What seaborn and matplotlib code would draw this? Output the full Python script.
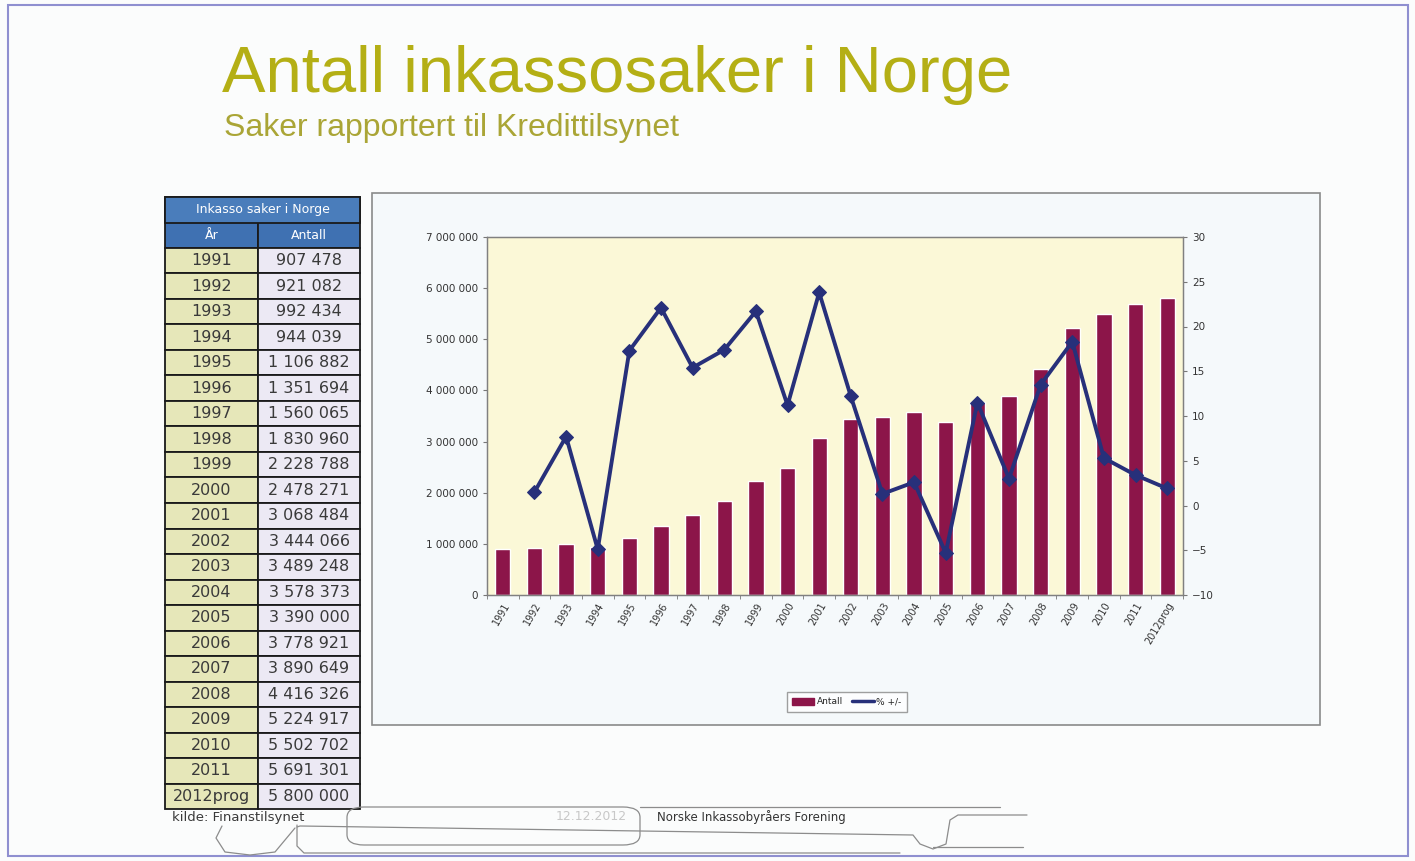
import numpy as np
import pandas as pd
import seaborn as sns
import matplotlib.pyplot as plt
from matplotlib.patches import Rectangle, Patch, FancyBboxPatch
from matplotlib.lines import Line2D
from matplotlib.ticker import FuncFormatter

# Data: cases reported to Kredittilsynet
years = ["1991", "1992", "1993", "1994", "1995", "1996", "1997", "1998", "1999",
         "2000", "2001", "2002", "2003", "2004", "2005", "2006", "2007", "2008",
         "2009", "2010", "2011", "2012prog"]
cases = [907478, 921082, 992434, 944039, 1106882, 1351694, 1560065, 1830960,
         2228788, 2478271, 3068484, 3444066, 3489248, 3578373, 3390000, 3778921,
         3890649, 4416326, 5224917, 5502702, 5691301, 5800000]
# % +/- for 1992 .. 2012prog
pct_change = [1.5, 7.7, -4.9, 17.3, 22.1, 15.4, 17.4, 21.7, 11.2, 23.8, 12.2,
              1.3, 2.6, -5.3, 11.5, 3.0, 13.5, 18.3, 5.3, 3.4, 1.9]

table_title = "Inkasso saker i Norge"
col_labels = ["År", "Antall"]
title = "Antall inkassosaker i Norge"
subtitle = "Saker rapportert til Kredittilsynet"
legend_labels = ["Antall", "% +/-"]

W, H = 1415, 861
bar_color = "#8c1549"
line_color = "#27307a"
olive = "#b4af15"

sns.set_style("ticks")
plt.rcParams["font.family"] = ["DejaVu Sans"]

fig = plt.figure(figsize=(W / 100, H / 100), dpi=100)
fig.patch.set_facecolor("#fbfcfc")


def fx(px):
    return px / W


def fy(py):
    return 1 - py / H


# outer frame of the scan
fig.add_artist(Rectangle((fx(8), fy(856)), fx(1400), 851 / H, transform=fig.transFigure,
                         fill=False, edgecolor="#8f8fd0", lw=1.5))

# titles
fig.text(fx(222), fy(75), title, fontsize=47, color=olive, family="Liberation Sans",
         va="center", ha="left")
fig.text(fx(224), fy(128), subtitle, fontsize=23, color="#aaa536", family="Liberation Sans",
         va="center", ha="left")

# chart frame
fig.add_artist(Rectangle((fx(372), fy(725)), fx(1320 - 372), (725 - 193) / H,
                         transform=fig.transFigure, facecolor="#f5f9fb",
                         edgecolor="#8a8a8a", lw=1.2, zorder=0))

ax = fig.add_axes([fx(487), fy(595), fx(1183 - 487), (595 - 237) / H])
ax.set_facecolor("#fbf8d7")
n = len(years)
df = pd.DataFrame({"year": years, "cases": cases})
sns.barplot(data=df, x="year", y="cases", order=years, color=bar_color,
            saturation=1, width=0.48, ax=ax)
ax.set_xlim(-0.5, n - 0.5)
ax.set_ylim(0, 7_000_000)
ax.set_yticks(np.arange(0, 7_000_001, 1_000_000))
ax.yaxis.set_major_formatter(FuncFormatter(lambda v, _: f"{int(v):,}".replace(",", " ")))
ax.set_xticks(range(n))
ax.set_xticklabels(years, rotation=60, ha="right", rotation_mode="anchor")
ax.set_xticks(np.arange(-0.5, n, 1), minor=True)
ax.tick_params(axis="x", which="major", length=0, labelsize=7, colors="#333333", pad=4)
ax.tick_params(axis="x", which="minor", length=3, color="#777777")
ax.tick_params(axis="y", length=3, labelsize=7.5, colors="#333333", color="#777777")
ax.set_xlabel("")
ax.set_ylabel("")
for s in ax.spines.values():
    s.set_color("#808080")
    s.set_linewidth(0.9)
    s.set_visible(True)

ax2 = ax.twinx()
sns.lineplot(x=list(range(1, n)), y=pct_change, ax=ax2, color=line_color, marker="D",
             markersize=7, markeredgecolor=line_color, linewidth=2.8)
ax2.set_ylim(-10, 30)
ax2.set_yticks(range(-10, 31, 5))
ax2.tick_params(axis="y", length=3, labelsize=7.5, colors="#333333", color="#777777")
ax2.set_ylabel("")
for s in ax2.spines.values():
    s.set_color("#808080")
    s.set_linewidth(0.9)

handles = [Patch(facecolor=bar_color, edgecolor=bar_color),
           Line2D([0], [0], color=line_color, lw=2.5)]
fig.legend(handles, legend_labels, loc="center", bbox_to_anchor=(fx(847), fy(702)),
           ncol=2, fontsize=6.5, frameon=True, fancybox=False, edgecolor="#888888",
           handlelength=2.4, handletextpad=0.3, columnspacing=1.0, borderpad=0.6)

# table
nrows = n + 2
axt = fig.add_axes([fx(165), fy(809), fx(360 - 165), (809 - 197) / H])
axt.axis("off")
cell_text = [["", ""], col_labels] + [[y, f"{c:,}".replace(",", " ")] for y, c in zip(years, cases)]
colours = [["#4a7dbb", "#4a7dbb"], ["#3f71b2", "#3f71b2"]] + [["#e6e7b9", "#ece9f4"]] * n
tbl = axt.table(cellText=cell_text, cellColours=colours, cellLoc="center",
                colWidths=[0.477, 0.523], bbox=[0, 0, 1, 1])
tbl.auto_set_font_size(False)
for (r, c), cell in tbl.get_celld().items():
    cell.set_edgecolor("#1a1a1a")
    cell.set_linewidth(1.3)
    txt = cell.get_text()
    txt.set_fontsize(11.5)
    txt.set_color("#3a3a3a")
    if r < 2:
        txt.set_color("white")
        txt.set_fontsize(9)
    if c == 1 and r >= 2:
        cell._loc = "right"
        cell.PAD = 0.0
# merged title row on top of the table
axt.add_patch(Rectangle((0, 1 - 1 / nrows), 1, 1 / nrows, transform=axt.transAxes,
                        facecolor="#4a7dbb", edgecolor="#1a1a1a", lw=1.3, zorder=5,
                        clip_on=False))
axt.text(0.5, 1 - 0.5 / nrows, table_title, transform=axt.transAxes, ha="center",
         va="center", fontsize=9, color="white", zorder=6)

# footer
fig.text(fx(172), fy(818), "kilde: Finanstilsynet", fontsize=9.5, color="#3a3a3a", va="center")
fig.text(fx(556), fy(817), "12.12.2012", fontsize=9, color="#c8c8c8", va="center")
fig.text(fx(657), fy(817), "Norske Inkassobyråers Forening", fontsize=8.5, color="#333333",
         va="center")
deco = "#8c8c8c"
fig.add_artist(FancyBboxPatch((fx(347), fy(845)), fx(640 - 347), 38 / H,
                              transform=fig.transFigure,
                              boxstyle="round,pad=0,rounding_size=0.012", fill=False,
                              edgecolor=deco, lw=0.9))
footer_paths = [
    [(640, 807), (1000, 807)],
    [(297, 825), (297, 846), (304, 853), (900, 853)],
    [(297, 827), (300, 826), (913, 835), (920, 844), (933, 849), (946, 844), (950, 820),
     (958, 815), (1027, 815)],
    [(933, 847), (1023, 847)],
    [(222, 826), (216, 838), (225, 852), (250, 855), (275, 852), (285, 840), (295, 828)],
]
for path in footer_paths:
    xs, ys = zip(*path)
    fig.add_artist(Line2D([fx(v) for v in xs], [fy(v) for v in ys], transform=fig.transFigure,
                          color=deco, lw=0.9, solid_joinstyle="round"))

fig.savefig("out.png", dpi=100)
